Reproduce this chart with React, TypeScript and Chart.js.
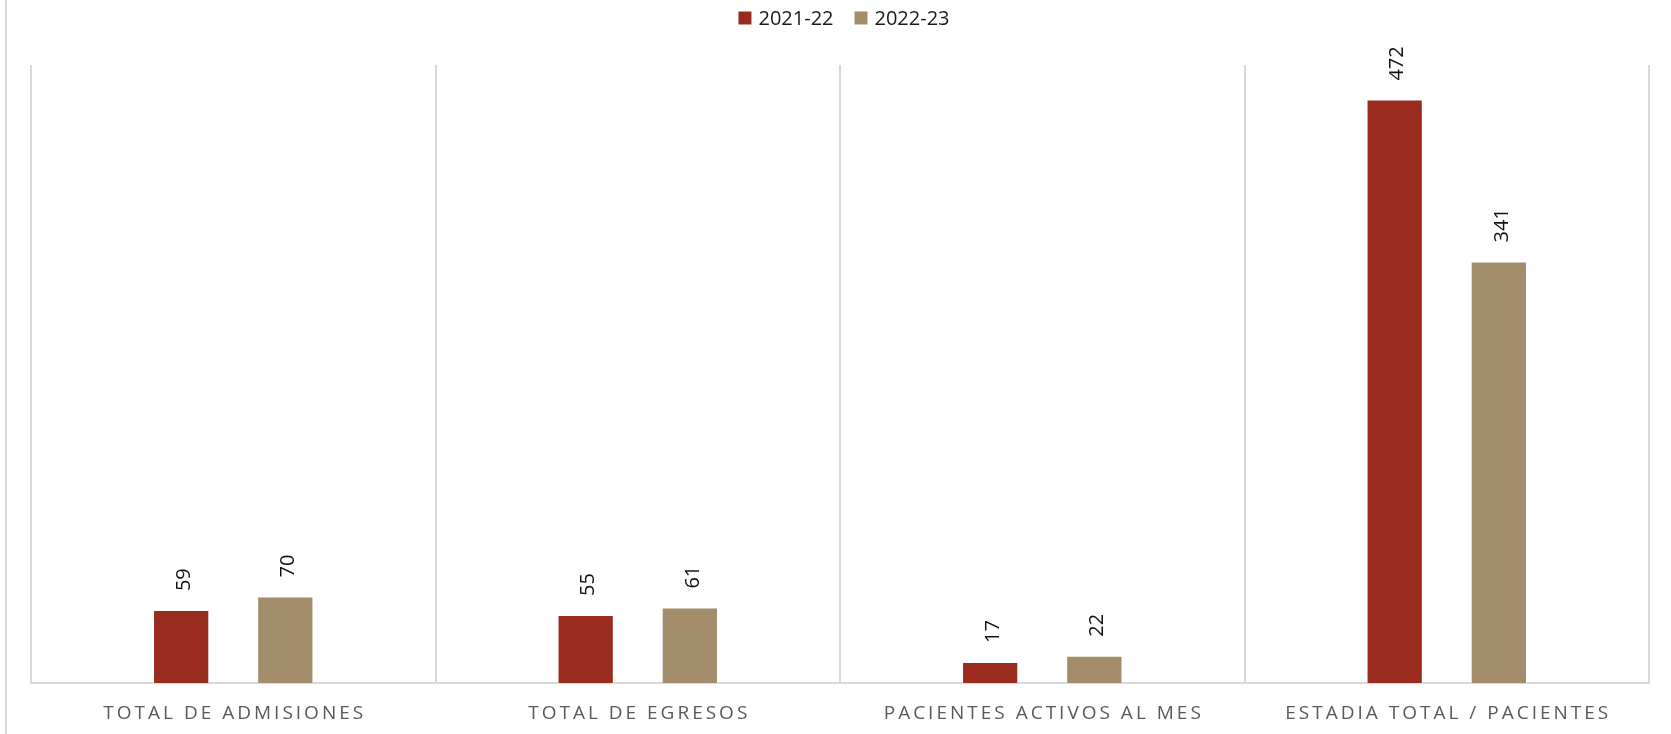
import React, { useEffect, useRef } from "react";
import { Chart, registerables } from "chart.js";

Chart.register(...registerables);

const categories = [
  "TOTAL DE ADMISIONES",
  "TOTAL DE EGRESOS",
  "PACIENTES ACTIVOS AL MES",
  "ESTADIA TOTAL / PACIENTES",
];
const seriesNames = ["2021-22", "2022-23"];
const values2021 = [59, 55, 17, 472];
const values2022 = [70, 61, 22, 341];
const yMax = 500;

const RED = "#9A2B1F";
const TAN = "#A38C6A";
const GRID = "#d9d9d9";
const FONT = "'Open Sans', 'Noto Sans', sans-serif";

const outerFrame = {
  id: "outerFrame",
  beforeDraw(chart: any) {
    const ctx = chart.ctx;
    ctx.save();
    ctx.strokeStyle = GRID;
    ctx.lineWidth = 2;
    ctx.beginPath();
    ctx.moveTo(6, 0);
    ctx.lineTo(6, chart.height);
    ctx.stroke();
    ctx.restore();
  },
};

const customLegend = {
  id: "customLegend",
  afterDraw(chart: any) {
    const ctx = chart.ctx;
    const datasets = chart.data.datasets;
    const box = 13;
    const textGap = 7;
    const itemGap = 21;
    ctx.save();
    ctx.font = `20px ${FONT}`;
    ctx.textBaseline = "middle";
    ctx.textAlign = "left";
    const widths = datasets.map((d: any) => ctx.measureText(d.label).width);
    const total =
      widths.reduce((a: number, w: number) => a + w + box + textGap, 0) +
      itemGap * (datasets.length - 1);
    const center = (chart.chartArea.left + chart.chartArea.right) / 2 + 4;
    let x = center - total / 2;
    const cy = 18;
    datasets.forEach((d: any, i: number) => {
      ctx.fillStyle = d.backgroundColor;
      ctx.fillRect(x, cy - box / 2, box, box);
      ctx.fillStyle = "#1a1a1a";
      ctx.fillText(d.label, x + box + textGap, cy + 1);
      x += box + textGap + widths[i] + itemGap;
    });
    ctx.restore();
  },
};

const barLabels = {
  id: "barLabels",
  afterDatasetsDraw(chart: any) {
    const ctx = chart.ctx;
    ctx.save();
    ctx.font = `20px ${FONT}`;
    ctx.fillStyle = "#111111";
    ctx.textAlign = "left";
    ctx.textBaseline = "middle";
    chart.data.datasets.forEach((ds: any, di: number) => {
      const meta = chart.getDatasetMeta(di);
      meta.data.forEach((el: any, i: number) => {
        ctx.save();
        ctx.translate(el.x + 3, el.y - 19);
        ctx.rotate(-Math.PI / 2);
        ctx.fillText(String(ds.data[i]), 0, 0);
        ctx.restore();
      });
    });
    ctx.restore();
  },
};

const xLabels = {
  id: "xLabels",
  afterDraw(chart: any) {
    const ctx = chart.ctx;
    const xs = chart.scales.x;
    ctx.save();
    ctx.font = `19px ${FONT}`;
    ctx.fillStyle = "#595959";
    (ctx as any).letterSpacing = "3px";
    ctx.textAlign = "left";
    ctx.textBaseline = "middle";
    chart.data.labels.forEach((lab: string, i: number) => {
      const cx = xs.getPixelForValue(i);
      const w = ctx.measureText(lab).width - 3;
      ctx.fillText(lab, cx - w / 2, 714);
    });
    ctx.restore();
  },
};

export default function App() {
  const ref = useRef<HTMLCanvasElement | null>(null);

  useEffect(() => {
    if (!ref.current) return;
    const chart = new Chart(ref.current, {
      type: "bar",
      data: {
        labels: categories,
        datasets: [
          {
            label: seriesNames[0],
            data: values2021,
            backgroundColor: RED,
            borderColor: "rgba(255,255,255,0.45)",
            borderWidth: 1,
            categoryPercentage: 0.515,
            barPercentage: 0.54,
          },
          {
            label: seriesNames[1],
            data: values2022,
            backgroundColor: TAN,
            borderColor: "rgba(255,255,255,0.45)",
            borderWidth: 1,
            categoryPercentage: 0.515,
            barPercentage: 0.54,
          },
        ],
      },
      options: {
        animation: false,
        responsive: true,
        maintainAspectRatio: false,
        layout: { padding: { left: 31, right: 22, top: 65, bottom: 51 } },
        plugins: {
          legend: { display: false },
          tooltip: { enabled: false },
        },
        scales: {
          x: {
            offset: true,
            grid: {
              display: true,
              offset: true,
              color: GRID,
              lineWidth: 2,
              drawTicks: false,
            },
            border: { display: true, color: GRID, width: 2 },
            ticks: { display: false },
          },
          y: {
            display: false,
            min: 0,
            max: yMax,
          },
        },
      },
      plugins: [outerFrame, customLegend, barLabels, xLabels],
    });
    return () => chart.destroy();
  }, []);

  return (
    <div
      style={{
        position: "fixed",
        left: 0,
        top: 0,
        width: "1671px",
        height: "734px",
        background: "#ffffff",
      }}
    >
      <canvas ref={ref} />
    </div>
  );
}
